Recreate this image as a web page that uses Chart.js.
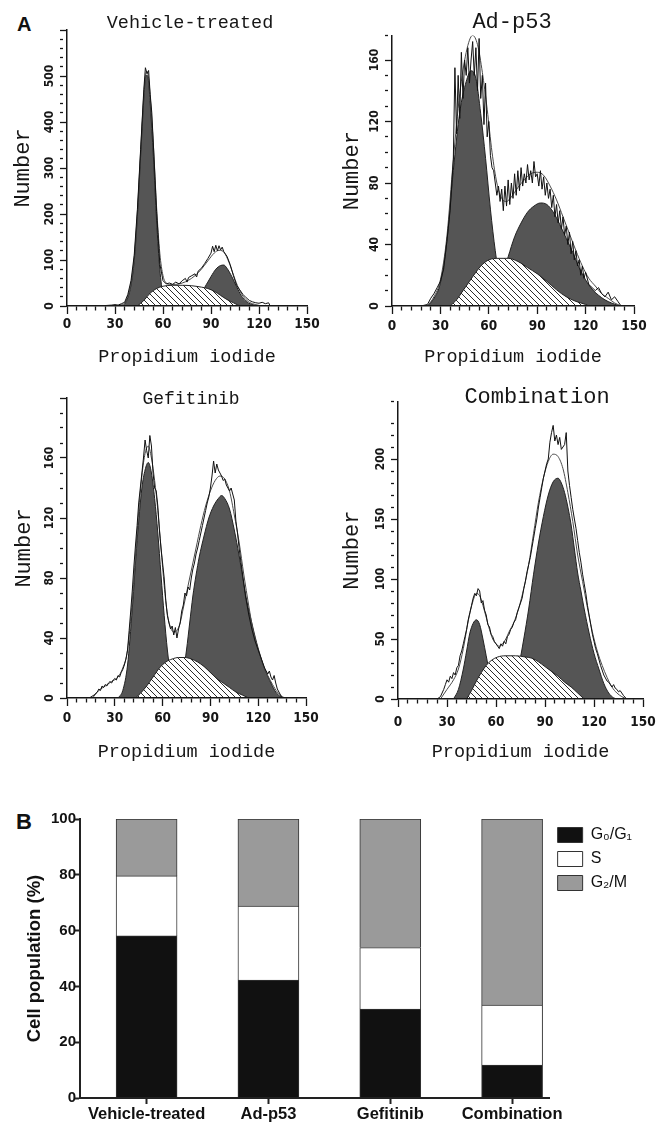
<!DOCTYPE html>
<html><head><meta charset="utf-8">
<script src="https://cdn.jsdelivr.net/npm/chart.js@4.4.0/dist/chart.umd.min.js"></script>
<style>
html,body{margin:0;padding:0;background:#fff;width:660px;height:1127px;overflow:hidden;position:relative}
canvas{position:absolute;display:block}
.lbl{position:absolute;font-family:'Liberation Sans',Arial,sans-serif;font-weight:bold;color:#111;line-height:1}
</style></head><body>
<div class="lbl" style="left:17px;top:14px;font-size:20px">A</div>
<div class="lbl" style="left:16px;top:811px;font-size:22px">B</div>
<canvas id="h1" width="380" height="368" style="left:0;top:0"></canvas>
<canvas id="h2" width="364" height="369" style="left:330px;top:0"></canvas>
<canvas id="h3" width="382" height="391" style="left:0;top:372px"></canvas>
<canvas id="h4" width="414" height="392" style="left:330px;top:372px"></canvas>
<canvas id="bars" width="660" height="337" style="left:0;top:790px"></canvas>
<script>
// ---------- Panel A data (PI channel, cell count) ----------
const vehRaw = [[20,0],[24,1],[28,2],[30,3],[32,2],[34,5],[36,8],[38,25],[40,55],[42,110],[44,210],[46,340],[48,470],[49,518],[50,505],[51,512],[52,460],[53,420],[54,350],[56,205],[58,92],[60,55],[62,48],[64,50],[66,47],[68,52],[70,48],[72,55],[74,60],[75,52],[76,62],[78,66],[80,70],[81,63],[82,76],[84,82],[86,92],[88,103],[90,115],[91,130],[92,118],[93,132],[94,120],[95,131],[96,122],[97,128],[98,118],[100,108],[102,90],[104,66],[106,45],[108,35],[110,25],[112,18],[114,12],[116,9],[118,7],[120,6],[122,8],[124,5],[126,7],[127,0]];
const vehFit = [[30,0],[34,3],[36,6],[38,22],[40,50],[42,105],[44,205],[46,335],[48,460],[49,500],[50,510],[51,495],[52,455],[54,350],[56,215],[58,115],[60,66],[62,50],[64,47],[68,47],[72,50],[76,56],[80,66],[84,80],[88,98],[92,115],[95,121],[97,120],[99,112],[102,88],[105,58],[108,33],[111,17],[114,8],[118,3],[122,0]];
const vehG1 = [[34,0],[36,4],[38,18],[40,45],[42,98],[44,195],[46,325],[48,450],[49,495],[50,502],[51,487],[52,440],[54,325],[56,185],[58,80],[60,25],[62,6],[64,0]];
const vehS = [[44,0],[48,12],[52,28],[56,38],[60,43],[66,45],[72,45],[78,44],[84,41],[88,38],[92,32],[96,23],[100,14],[104,7],[108,0]];
const vehG2 = [[76,0],[80,8],[84,25],[86,40],[88,52],[90,64],[93,80],[96,88],[98,89],[100,82],[103,64],[106,42],[109,22],[112,10],[115,4],[120,0]];

const adRaw = [[18,0],[22,1],[24,5],[26,8],[28,12],[30,16],[32,24],[34,42],[36,62],[38,95],[39,155],[40,112],[41,150],[42,122],[43,165],[44,135],[45,160],[46,150],[47,168],[48,145],[49,160],[50,172],[51,150],[52,168],[53,140],[54,174],[55,135],[56,150],[57,118],[58,145],[59,110],[60,120],[61,98],[62,90],[63,88],[64,80],[65,72],[66,78],[67,68],[68,76],[69,62],[70,78],[71,65],[72,82],[73,66],[74,80],[75,70],[76,86],[77,72],[78,88],[79,75],[80,90],[81,78],[82,86],[83,80],[84,92],[85,82],[86,88],[87,80],[88,94],[89,84],[90,86],[91,78],[92,88],[93,76],[94,84],[95,72],[96,80],[97,70],[98,76],[99,64],[100,72],[101,58],[102,66],[103,54],[104,62],[105,50],[106,58],[107,46],[108,52],[109,40],[110,48],[111,34],[112,42],[113,30],[114,36],[115,26],[116,30],[117,20],[118,26],[119,18],[120,22],[122,14],[124,12],[126,10],[128,12],[130,8],[132,6],[134,9],[136,4],[138,6],[140,3],[142,0]];
const adFit = [[22,0],[26,6],[30,17],[34,45],[38,95],[42,138],[46,165],[50,176],[53,170],[56,152],[59,128],[62,100],[65,80],[68,70],[71,68],[74,71],[78,77],[82,82],[86,86],[90,87],[94,85],[98,78],[102,69],[106,58],[110,47],[114,36],[118,26],[122,18],[126,13],[130,8],[134,5],[138,2],[142,0]];
const adG1 = [[22,0],[26,5],[30,15],[34,42],[38,88],[42,126],[46,146],[49,153],[52,148],[55,125],[58,96],[61,63],[64,36],[67,16],[70,5],[74,0]];
const adS = [[36,0],[40,4],[44,10],[48,16],[52,22],[56,27],[60,30],[66,31],[72,31],[78,29],[84,25],[90,21],[96,16],[102,10.5],[108,6],[114,3],[120,1],[122,0]];
const adG2 = [[60,2],[64,8],[68,18],[72,32],[76,45],[80,54],[84,61],[88,65],[92,67],[96,66],[100,61],[104,53],[108,44],[112,35],[116,25],[120,17],[124,11],[128,7],[132,4],[136,2],[140,0.5],[142,0]];

const gefRaw = [[14,0],[17,2],[19,4],[20,6],[21,5],[22,8],[23,7],[24,9],[25,8],[26,10],[27,11],[28,10],[29,12],[30,13],[31,12],[32,15],[33,14],[34,17],[35,19],[36,22],[37,26],[38,32],[39,45],[40,58],[41,72],[42,88],[43,102],[44,115],[45,130],[46,140],[47,150],[48,160],[49,172],[50,165],[51,160],[52,175],[53,168],[54,150],[55,140],[56,138],[57,128],[58,112],[59,100],[60,90],[61,80],[62,65],[63,55],[64,50],[65,46],[66,48],[67,42],[68,47],[69,40],[70,46],[71,50],[72,58],[73,62],[74,70],[75,68],[76,74],[77,72],[78,80],[79,86],[80,90],[81,96],[82,100],[83,105],[84,110],[85,115],[86,120],[87,125],[88,130],[89,134],[90,140],[91,148],[92,158],[93,150],[94,156],[95,152],[96,150],[97,148],[98,145],[99,146],[100,142],[101,140],[102,138],[103,140],[104,136],[105,132],[106,118],[107,110],[108,100],[109,92],[110,84],[111,76],[112,68],[114,56],[116,46],[118,38],[120,32],[122,26],[124,20],[126,16],[127,18],[128,14],[129,12],[130,15],[131,10],[132,6],[133,4],[134,2],[135,0]];
const gefFit = [[16,0],[20,5],[24,8],[28,11],[32,14],[35,20],[38,32],[41,65],[44,110],[47,148],[49,163],[51,168],[53,160],[55,145],[57,125],[59,100],[61,75],[63,56],[65,47],[67,44],[69,45],[71,50],[73,60],[75,70],[77,80],[79,90],[81,100],[84,115],[87,128],[90,138],[93,145],[96,148],[99,146],[102,138],[105,122],[108,104],[111,82],[114,62],[117,44],[120,32],[123,22],[126,15],[129,9],[132,4],[135,1],[137,0]];
const gefG1 = [[32,0],[35,5],[38,22],[41,60],[44,105],[47,140],[49,152],[51,157],[53,150],[55,133],[57,110],[59,82],[61,55],[63,32],[65,16],[67,7],[70,2],[73,0]];
const gefS = [[43,0],[46,3],[50,8],[54,14],[58,20],[62,24],[66,26],[70,27],[74,27],[78,26],[82,24],[86,21],[90,17],[94,13],[98,10],[102,7],[106,4],[110,2],[114,0]];
const gefG2 = [[66,0],[70,5],[73,18],[75,32],[77,50],[79,68],[81,82],[83,94],[86,108],[89,120],[92,128],[95,133],[97,135],[99,133],[102,126],[105,112],[108,95],[111,76],[113,64],[116,50],[119,37],[122,26],[125,17],[128,10],[131,4],[134,1],[136,0]];

const comRaw = [[24,0],[26,2],[28,8],[29,12],[30,16],[31,14],[32,19],[33,17],[34,22],[35,20],[36,26],[37,28],[38,36],[39,40],[40,46],[41,52],[42,58],[43,66],[44,72],[45,78],[46,84],[47,88],[48,86],[49,92],[50,90],[51,80],[52,82],[53,74],[54,70],[55,62],[56,60],[57,54],[58,52],[59,48],[60,46],[61,44],[62,42],[63,46],[64,44],[65,48],[66,46],[67,52],[68,54],[69,58],[70,60],[71,64],[72,66],[73,72],[74,76],[75,80],[76,84],[77,92],[78,98],[79,106],[80,112],[81,118],[82,126],[83,134],[84,142],[85,150],[86,160],[87,168],[88,176],[89,184],[90,190],[91,196],[92,200],[93,214],[94,222],[95,228],[96,215],[97,220],[98,212],[99,218],[100,208],[101,210],[102,212],[103,222],[104,190],[105,178],[106,168],[107,158],[108,150],[109,142],[110,132],[111,122],[112,114],[113,104],[114,96],[115,88],[116,78],[117,70],[118,62],[119,54],[120,48],[121,42],[122,38],[124,28],[126,20],[128,15],[129,14],[130,12],[131,10],[132,12],[133,9],[134,8],[135,6],[136,7],[137,5],[138,3],[140,0]];
const comFit = [[26,0],[30,8],[34,16],[37,25],[40,42],[43,65],[46,82],[48,88],[50,86],[52,78],[54,68],[56,58],[58,50],[60,46],[62,44],[64,46],[66,50],[68,56],[71,64],[74,76],[77,92],[80,112],[83,138],[86,164],[89,184],[92,198],[95,204],[98,202],[101,192],[104,172],[107,148],[110,120],[113,98],[116,76],[119,56],[122,40],[125,28],[128,18],[131,10],[134,5],[137,2],[140,0]];
const comG1 = [[34,0],[37,8],[40,25],[42,40],[44,55],[46,63],[48,66],[50,62],[52,50],[54,36],[56,22],[58,12],[60,5],[63,0]];
const comS = [[42,0],[45,7],[48,15],[51,22],[54,28],[57,32],[61,35],[66,36],[72,36],[78,35],[82,34],[86,31],[90,27],[94,23],[98,19],[102,14],[106,10],[110,5],[114,0]];
const comG2 = [[66,0],[70,10],[74,28],[77,50],[80,75],[83,104],[86,130],[89,152],[92,170],[95,181],[98,184],[100,180],[102,172],[104,160],[106,145],[108,125],[110,105],[112,90],[114,75],[117,55],[120,38],[123,25],[126,13],[129,5],[132,1],[134,0]];

const xTickLabels = [0,30,60,90,120,150];
const vehYLabels = [0,100,200,300,400,500];
const adYLabels = [0,40,80,120,160];
const gefYLabels = [0,40,80,120,160];
const comYLabels = [0,50,100,150,200];

// ---------- Panel B data ----------
const categories = ['Vehicle-treated','Ad-p53','Gefitinib','Combination'];
const phaseNames = ['G\u2080/G\u2081','S','G\u2082/M'];
const pctG0G1 = [58.1,42.3,31.9,11.8];
const pctS = [21.5,26.5,22.0,21.5];
const pctG2M = [20.4,31.2,46.1,66.7];

// ---------- styling helpers ----------
const monoFont = "'Liberation Mono','DejaVu Sans Mono',monospace";
const tickFamily = "'DejaVu Sans Condensed','DejaVu Sans',sans-serif";
const ink = '#161616';

function hatchPattern(){
  const c = document.createElement('canvas'); c.width = 6; c.height = 6;
  const g = c.getContext('2d');
  g.fillStyle = '#fff'; g.fillRect(0,0,6,6);
  g.strokeStyle = '#2a2a2a'; g.lineWidth = 1;
  g.beginPath();
  g.moveTo(-1,-1); g.lineTo(7,7);
  g.moveTo(-1,5); g.lineTo(1,7);
  g.moveTo(5,-1); g.lineTo(7,1);
  g.stroke();
  return g.createPattern(c,'repeat');
}
const hatch = hatchPattern();

function histo(id, p){
  const curve = {pointRadius:0, borderWidth:1, cubicInterpolationMode:'monotone'};
  return new Chart(document.getElementById(id), {
    type:'line',
    data:{datasets:[
      Object.assign({}, curve, {label:'data', data:p.raw, borderColor:'#111', tension:0, cubicInterpolationMode:'default', fill:false, order:0}),
      Object.assign({}, curve, {label:'fit', data:p.fit, borderColor:'#4a4a4a', fill:false, order:1}),
      Object.assign({}, curve, {label:'S', data:p.s, borderColor:'#222', backgroundColor:hatch, fill:'origin', order:2}),
      Object.assign({}, curve, {label:'G2', data:p.g2, borderColor:'#222', backgroundColor:'#555', fill:'origin', order:3}),
      Object.assign({}, curve, {label:'G1', data:p.g1, borderColor:'#222', backgroundColor:'#555', fill:'origin', order:4})
    ]},
    options:{
      responsive:false, animation:false, events:[],
      layout:{padding:0},
      plugins:{
        legend:{display:false}, tooltip:{enabled:false},
        title:{display:true, text:p.title, color:ink, fullSize:true,
          font:{family:monoFont, size:p.titleSize, weight:'normal', lineHeight:0.9},
          padding:{top:p.titlePadTop, bottom:p.titlePadBottom}}
      },
      scales:{
        x:{type:'linear', min:0, max:150, position:'bottom',
          afterFit:s=>{s.height=p.hx; s.paddingLeft=0; s.paddingRight=0;},
          ticks:{stepSize:6, autoSkip:false, minRotation:0, maxRotation:0, color:ink, padding:p.xTickPad,
            font:{family:tickFamily, size:13.5, weight:'bold'},
            callback:v=>xTickLabels.includes(v)?String(v):''},
          grid:{drawOnChartArea:false, tickLength:8, tickColor:ink, tickWidth:1.3,
            tickBorderDash:ctx=>(ctx.tick && xTickLabels.includes(ctx.tick.value))?[]:[4,40]},
          border:{color:ink, width:1.5, z:1},
          title:{display:true, text:'Propidium iodide', color:ink,
            font:{family:monoFont, size:18.5, weight:'normal', lineHeight:1.2},
            padding:{top:0, bottom:p.piPad}}
        },
        y:{type:'linear', min:0, max:p.yMax, position:'left',
          afterFit:s=>{s.width=p.wy; s.paddingTop=0; s.paddingBottom=0;},
          ticks:{stepSize:p.yMinor, autoSkip:false, minRotation:90, maxRotation:90, crossAlign:'center', padding:-1, color:ink,
            font:{family:tickFamily, size:12, weight:'bold'},
            callback:v=>p.yLabels.includes(v)?String(v):''},
          grid:{drawOnChartArea:false, tickLength:7, tickColor:ink, tickWidth:1.3,
            tickBorderDash:ctx=>(ctx.tick && ctx.tick.value % p.yMajor === 0)?[]:[3,40]},
          border:{color:ink, width:1.5, z:1},
          title:{display:true, text:'Number', color:ink,
            font:{family:monoFont, size:22, weight:'normal', lineHeight:1.2},
            padding:{top:p.numPad, bottom:0}}
        },
        yr:{type:'linear', position:'right', display:true, min:0, max:1,
          grid:{display:false}, border:{display:false}, ticks:{display:false},
          afterFit:s=>{s.width=p.wr;}}
      }
    }
  });
}

histo('h1', {raw:vehRaw, fit:vehFit, g1:vehG1, s:vehS, g2:vehG2, title:'Vehicle-treated', titleSize:18.5,
  titlePadTop:14.5, titlePadBottom:-1.15, hx:62, wy:67, wr:73, yMax:600, yMinor:20, yMajor:100, yLabels:vehYLabels,
  xTickPad:2.8, piPad:0.2, numPad:10.3});
histo('h2', {raw:adRaw, fit:adFit, g1:adG1, s:adS, g2:adG2, title:'Ad-p53', titleSize:22,
  titlePadTop:12.6, titlePadBottom:3.0, hx:63, wy:62, wr:60, yMax:176, yMinor:10, yMajor:40, yLabels:adYLabels,
  xTickPad:4.8, piPad:0.4, numPad:9.3});
histo('h3', {raw:gefRaw, fit:gefFit, g1:gefG1, s:gefS, g2:gefG2, title:'Gefitinib', titleSize:18,
  titlePadTop:19.4, titlePadBottom:-9.6, hx:65, wy:67, wr:76, yMax:200, yMinor:10, yMajor:40, yLabels:gefYLabels,
  xTickPad:4.3, piPad:0.2, numPad:10.8});
histo('h4', {raw:comRaw, fit:comFit, g1:comG1, s:comS, g2:comG2, title:'Combination', titleSize:22,
  titlePadTop:14.8, titlePadBottom:-5.2, hx:65, wy:68, wr:101, yMax:248, yMinor:10, yMajor:50, yLabels:comYLabels,
  xTickPad:7.8, piPad:0.4, numPad:9.3});

// ---------- Panel B ----------
const sans = "'Liberation Sans',Arial,sans-serif";
const toPts = arr => arr.map((v,i)=>({x:i, y:v}));
const barCommon = {borderColor:'#333', borderWidth:1, barThickness:61, stack:'cells'};
new Chart(document.getElementById('bars'), {
  type:'bar',
  data:{datasets:[
    Object.assign({label:phaseNames[0], data:toPts(pctG0G1), backgroundColor:'#111'}, barCommon),
    Object.assign({label:phaseNames[1], data:toPts(pctS), backgroundColor:'#fff'}, barCommon),
    Object.assign({label:phaseNames[2], data:toPts(pctG2M), backgroundColor:'#9a9a9a'}, barCommon)
  ]},
  options:{
    responsive:false, animation:false, events:[],
    layout:{padding:{top:29, right:18, left:0, bottom:0}},
    plugins:{
      tooltip:{enabled:false},
      legend:{position:'right', align:'start',
        labels:{boxWidth:25, boxHeight:15, padding:8, color:'#111', font:{family:sans, size:16}}}
    },
    scales:{
      x:{type:'linear', stacked:true, min:-0.5466, max:3.308, offset:false,
        afterBuildTicks:s=>{s.ticks = categories.map((c,i)=>({value:i}));},
        afterFit:s=>{s.height=29; s.paddingLeft=0; s.paddingRight=0;},
        ticks:{autoSkip:false, minRotation:0, maxRotation:0, color:'#111', padding:1,
          font:{family:sans, size:16.5, weight:'bold'}, callback:v=>categories[v]},
        grid:{offset:false, drawOnChartArea:false, tickLength:6, tickWidth:2, tickColor:'#222'},
        border:{color:'#222', width:2, z:1}
      },
      y:{stacked:true, min:0, max:100,
        afterFit:s=>{s.width=80; s.paddingTop=0; s.paddingBottom=0;},
        ticks:{stepSize:20, color:'#111', padding:-1, font:{family:sans, size:15, weight:'bold'}},
        grid:{drawOnChartArea:false, tickLength:5, tickWidth:2, tickColor:'#222'},
        border:{color:'#222', width:2, z:1},
        title:{display:true, text:'Cell population (%)', color:'#111',
          font:{family:sans, size:18.5, weight:'bold', lineHeight:1.2}, padding:{top:24, bottom:0}}
      }
    }
  }
});
</script>
</body></html>
